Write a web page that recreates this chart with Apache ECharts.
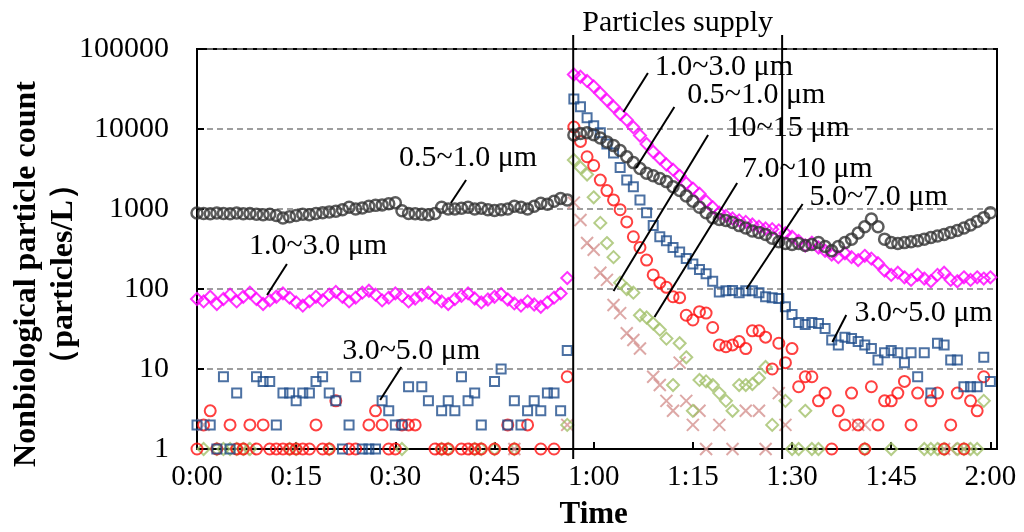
<!DOCTYPE html>
<html>
<head>
<meta charset="utf-8">
<script src="https://cdn.jsdelivr.net/npm/echarts@6/dist/echarts.min.js"></script>
<style>
  html, body { margin: 0; padding: 0; background: #fff; }
  #chart { width: 1024px; height: 532px; }
</style>
</head>
<body>
<div id="chart"></div>
<script>
// Sampling times in minutes after start (one reading per minute, 0:00 - 2:00)
const minutes = Array.from({ length: 121 }, (_, i) => i);

// Particle counts (particles/L) per size band; null = no particles counted
const count05to10 = [
  890,880,870,890,880,870,890,870,880,860, 850,860,830,770,800,830,860,850,880,900,
  920,940,980,1050,1000,1030,1080,1110,1120,1160, 1200,950,880,870,860,850,880,1050,1000,1000,
  1020,1050,1000,1020,980,960,980,1000,1080,1050, 1000,1080,1180,1150,1250,1350,1300,
  8400,8800,9000,8500,7700,6900,6200,5400,4500,3800, 3200,2800,2600,2400,2200,1900,1700,1450,1250,1050,
  900,780,740,720,680,620,580,530,510,480, 430,390,370,360,370,350,360,380,340,300,
  340,380,420,500,600,750,600,420,380,370, 380,390,400,420,440,460,480,510,540,580,
  630,700,780,900
];
const count10to30 = [
  75,70,80,65,75,85,70,80,90,75, 65,72,80,88,78,68,62,70,80,72,
  85,92,80,70,78,90,95,85,72,78, 88,82,70,76,84,90,78,70,65,75,
  82,88,76,68,74,80,86,74,66,62, 70,64,60,68,78,88,137,
  48000,45000,40000,34000,28000,23000,19000,15500,13000,10500, 8300,6500,5200,4300,3600,3100,2600,2100,1800,1550,
  1250,1050,900,820,760,720,690,640,600,570, 560,540,500,450,400,350,380,330,300,270,
  250,280,250,230,260,240,210,170,150,160, 140,130,150,135,125,150,160,130,125,140,
  130,140,135,140
];
const count30to50 = [
  2,null,2,1,8,1,5,null,null,8, 7,7,2,5,5,4,5,5,7,8,
  5,4,1,2,8,1,1,1,4,3, 2,2,6,null,6,4,null,3,4,3,
  8,4,5,2,null,7,10,2,4,2, 3,4,3,5,5,3,17,
  23700,19000,13800,11000,9000,6500,5000,3300,2300,1900, 1300,900,620,450,400,330,290,240,205,175,
  155,125,92,95,96,90,95,95,90,80, 78,76,60,48,38,36,38,37,32,23,
  20,25,24,22,20,18,13,16,17,16, 12,16,8,16,5,21,20,13,13,6,
  6,6,14,7
];
const count50to70 = [
  1,2,3,1,null,2,1,1,2,1, 2,1,1,1,1,1,1,1,2,1,
  1,4,null,1,1,null,2,3,2,1, 1,2,2,2,null,null,1,1,1,null,
  1,1,1,1,null,1,null,2,1,null, 2,null,1,null,1,null,8,
  10600,7000,4500,3500,2300,1700,1300,980,690,450, 330,230,150,120,105,80,78,47,41,52,
  50,33,20,19,20,22,18,30,30,25, 10,21,12,18,6,8,8,4,5,1,
  3,2,5,2,1,6,2,4,4,5, 7,2,5,null,4,5,1,2,5,1,
  4,3,8,null
];
const count70to10 = [
  null,1,null,1,1,1,1,1,1,null, null,null,null,null,1,1,null,null,null,null,
  1,null,null,null,null,null,null,null,null,null, null,1,null,null,null,null,null,1,1,null,
  null,null,1,1,null,1,null,null,1,null, null,null,null,null,null,null,2,
  4100,3300,2700,1400,670,375,250,120,100,90, 47,44,37,31,24,6.3,21,14,3,7.3,
  7,6.3,5,4,3,6.3,6.3,6.5,7.7,10.6, 2,null,4,1,1,3,1,1,null,null,
  null,null,null,null,1,null,null,null,1,null, null,null,null,1,1,1,1,null,1,1,
  1,1,4,null
];
const count10to15 = [
  null,2,null,null,null,null,null,1,1,null, null,null,null,null,null,null,null,null,null,null,
  null,null,null,null,null,null,null,null,null,null, null,null,null,null,null,null,null,1,null,null,
  null,null,1,null,null,null,null,null,1,null, null,null,null,null,null,null,2,
  1200,730,375,310,160,130,63,50,28,23, 18,null,8,6.3,4,3,12,4,2,3,
  1,null,2,null,1,null,3,null,3,1, null,5,2,null,null,null,null,null,null,null,
  null,null,null,2,2,null,null,null,null,null, null,null,null,null,null,null,1,1,null,1,
  null,null,null,null
];

// Start and end of the particle supply period (minutes)
const supplyWindow = [56.9, 88.5];
const supplyLabel = 'Particles supply';

// Callout labels: text anchor and leader line end points, in (minutes, count)
const callouts = [
  { text: '0.5~1.0 μm', at: [41.0, 4340],  from: [40.7, 2304],  to: [38.4, 1189] },
  { text: '1.0~3.0 μm', at: [18.3, 345],   from: [13.6, 205],   to: [10.6, 84] },
  { text: '3.0~5.0 μm', at: [32.4, 16.8],  from: [30.9, 10.6],  to: [27.7, 4.1] },
  { text: '1.0~3.0 μm', at: [79.7, 59600], from: [68.2, 50100], to: [64.5, 16300] },
  { text: '0.5~1.0 μm', at: [84.6, 26600], from: [72.2, 18800], to: [66.4, 3254] },
  { text: '10~15 μm',   at: [89.4, 10290], from: [77.3, 8414],  to: [63.0, 94.4] },
  { text: '7.0~10 μm',  at: [92.3, 3162],  from: [81.7, 2113],  to: [69.2, 44.7] },
  { text: '5.0~7.0 μm', at: [103.1, 1413], from: [91.6, 1155],  to: [83.1, 100] },
  { text: '3.0~5.0 μm', at: [109.9, 50],   from: [98.2, 47.3],  to: [96.1, 21.8] }
];

const serif = "'Liberation Serif', 'Times New Roman', serif";
const crossPath = 'path://M0,0L10,10M10,0L0,10';

function pairs(values) {
  return minutes.map((t, i) => [t, values[i]]).filter(p => p[1] != null);
}
function openSeries(name, values, symbol, size, stroke, width) {
  return {
    name: name,
    type: 'scatter',
    data: pairs(values),
    symbol: symbol,
    symbolSize: size,
    itemStyle: { color: 'rgba(255,255,255,0)', borderColor: stroke, borderWidth: width },
    emphasis: { disabled: true }
  };
}
function clock(v) {
  if (v % 15 !== 0) return '';
  const h = Math.floor(v / 60), m = v % 60;
  return h + ':' + (m < 10 ? '0' : '') + m;
}

const chart = echarts.init(document.getElementById('chart'));
chart.setOption({
  animation: false,
  grid: { left: 197, top: 49, right: 27, bottom: 83, show: true, borderColor: '#000', borderWidth: 2 },
  xAxis: {
    type: 'value', min: 0, max: 121, interval: 15,
    axisLine: { lineStyle: { color: '#000', width: 2 } },
    axisTick: { inside: true, length: 7, lineStyle: { color: '#000', width: 2 } },
    axisLabel: { formatter: clock, showMaxLabel: false, color: '#000', fontFamily: serif, fontSize: 29, margin: 14 },
    splitLine: { show: false }
  },
  yAxis: {
    type: 'log', logBase: 10, min: 1, max: 100000,
    axisLine: { lineStyle: { color: '#000', width: 2 } },
    axisTick: { inside: true, length: 7, lineStyle: { color: '#000', width: 2 } },
    axisLabel: { formatter: v => String(Math.round(v)), color: '#000', fontFamily: serif, fontSize: 30, margin: 28 },
    splitLine: { show: true, lineStyle: { color: '#7f7f7f', type: [6, 4], width: 1.5 } },
    minorTick: { show: false }
  },
  series: [
    openSeries('10~15 μm', count10to15, crossPath, 12, '#d49290', 2),
    openSeries('7.0~10 μm', count70to10, 'diamond', 12, '#a2c06a', 2),
    openSeries('5.0~7.0 μm', count50to70, 'circle', 11, '#ff1010', 2),
    openSeries('3.0~5.0 μm', count30to50, 'rect', 9, '#1f4e8c', 2),
    openSeries('1.0~3.0 μm', count10to30, 'diamond', 12, '#ff00ff', 2),
    openSeries('0.5~1.0 μm', count05to10, 'circle', 11, '#333333', 2.5)
  ]
});

// Overlay: supply markers, callouts and axis titles placed through the chart's own scales
function px(p) { return chart.convertToPixel({ gridIndex: 0 }, p); }
const elements = [];
const topPx = px([0, 100000])[1];
const bottomPx = px([0, 1])[1];
const supplyX = supplyWindow.map(t => px([t, 1])[0]);
supplyX.forEach(x => {
  elements.push({ type: 'line', shape: { x1: x, y1: topPx - 14, x2: x, y2: bottomPx + 10 },
    style: { stroke: '#000', lineWidth: 2 }, z: 100 });
});
elements.push({ type: 'text', x: (supplyX[0] + supplyX[1]) / 2, y: topPx - 26,
  style: { text: supplyLabel, fill: '#000', fontFamily: serif, fontSize: 30,
    align: 'center', verticalAlign: 'middle', textAlign: 'center', textVerticalAlign: 'middle' }, z: 100 });
callouts.forEach(c => {
  const a = px(c.from), b = px(c.to), t = px(c.at);
  elements.push({ type: 'line', shape: { x1: a[0], y1: a[1], x2: b[0], y2: b[1] },
    style: { stroke: '#000', lineWidth: 2 }, z: 100 });
  elements.push({ type: 'text', x: t[0], y: t[1],
    style: { text: c.text, fill: '#000', fontFamily: serif, fontSize: 30,
      align: 'center', verticalAlign: 'middle', textAlign: 'center', textVerticalAlign: 'middle' }, z: 100 });
});
const midY = (topPx + bottomPx) / 2 + 25;
elements.push({ type: 'text', x: 27, y: midY, rotation: Math.PI / 2,
  style: { text: 'Nonbiological particle count', fill: '#000', fontFamily: serif, fontSize: 32, fontWeight: 'bold',
    align: 'center', verticalAlign: 'middle', textAlign: 'center', textVerticalAlign: 'middle' } });
elements.push({ type: 'text', x: 64, y: midY, rotation: Math.PI / 2,
  style: { text: '（particles/L）', fill: '#000', fontFamily: serif, fontSize: 32, fontWeight: 'bold',
    align: 'center', verticalAlign: 'middle', textAlign: 'center', textVerticalAlign: 'middle' } });
elements.push({ type: 'text', x: (px([0, 1])[0] + px([120, 1])[0]) / 2, y: bottomPx + 66,
  style: { text: 'Time', fill: '#000', fontFamily: serif, fontSize: 31, fontWeight: 'bold',
    align: 'center', verticalAlign: 'middle', textAlign: 'center', textVerticalAlign: 'middle' } });
chart.setOption({ graphic: { elements: elements } });
</script>
</body>
</html>
